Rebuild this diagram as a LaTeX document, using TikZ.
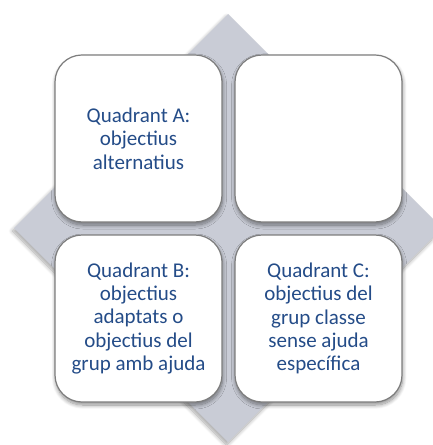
\documentclass[tikz,border=0pt]{standalone}
\usepackage{fontspec}
\setmainfont{Carlito}
\usetikzlibrary{shadows.blur}

\definecolor{diamondgray}{RGB}{201,204,214}
\definecolor{boxedge}{RGB}{125,125,125}
\definecolor{quadtext}{RGB}{36,76,136}

\tikzset{
  quadbox/.style={
    rectangle, rounded corners=27bp, minimum width=167bp, minimum height=167bp,
    fill=white, draw=boxedge, line width=1.2bp, inner sep=0pt,
    text=quadtext, align=center,
    font=\fontsize{21bp}{23.3bp}\selectfont,
    blur shadow={shadow xshift=0.6bp, shadow yshift=-3bp, shadow blur steps=10,
                 shadow blur radius=4bp, shadow opacity=45}
  },
  backdiamond/.style={
    fill=diamondgray,
    blur shadow={shadow xshift=-1.5bp, shadow yshift=-3bp, shadow blur steps=10,
                 shadow blur radius=4bp, shadow opacity=35}
  }
}

\begin{document}
\begin{tikzpicture}[x=1bp, y=-1bp]
  \useasboundingbox (0,0) rectangle (432,445);

  % background diamond behind the four quadrants
  \coordinate (dtop) at (228,14);
  \coordinate (dright) at (442,228);
  \coordinate (dbottom) at (228,442);
  \coordinate (dleft) at (14,228);
  \path[backdiamond] (dtop) -- (dright) -- (dbottom) -- (dleft) -- cycle;

  % the four quadrants
  \node[quadbox] (qa) at (138.5,138.5) {Quadrant A:\\objectius\\alternatius};
  \node[quadbox] (qd) at (318.5,138.5) {};
  \node[quadbox] (qb) at (138.5,318.5)
    {Quadrant B:\\objectius\\adaptats o\\objectius del\\grup amb ajuda};
  \node[quadbox] (qc) at (318.5,318.5)
    {Quadrant C:\\objectius del\\grup classe\\sense ajuda\\específica};
\end{tikzpicture}
\end{document}
